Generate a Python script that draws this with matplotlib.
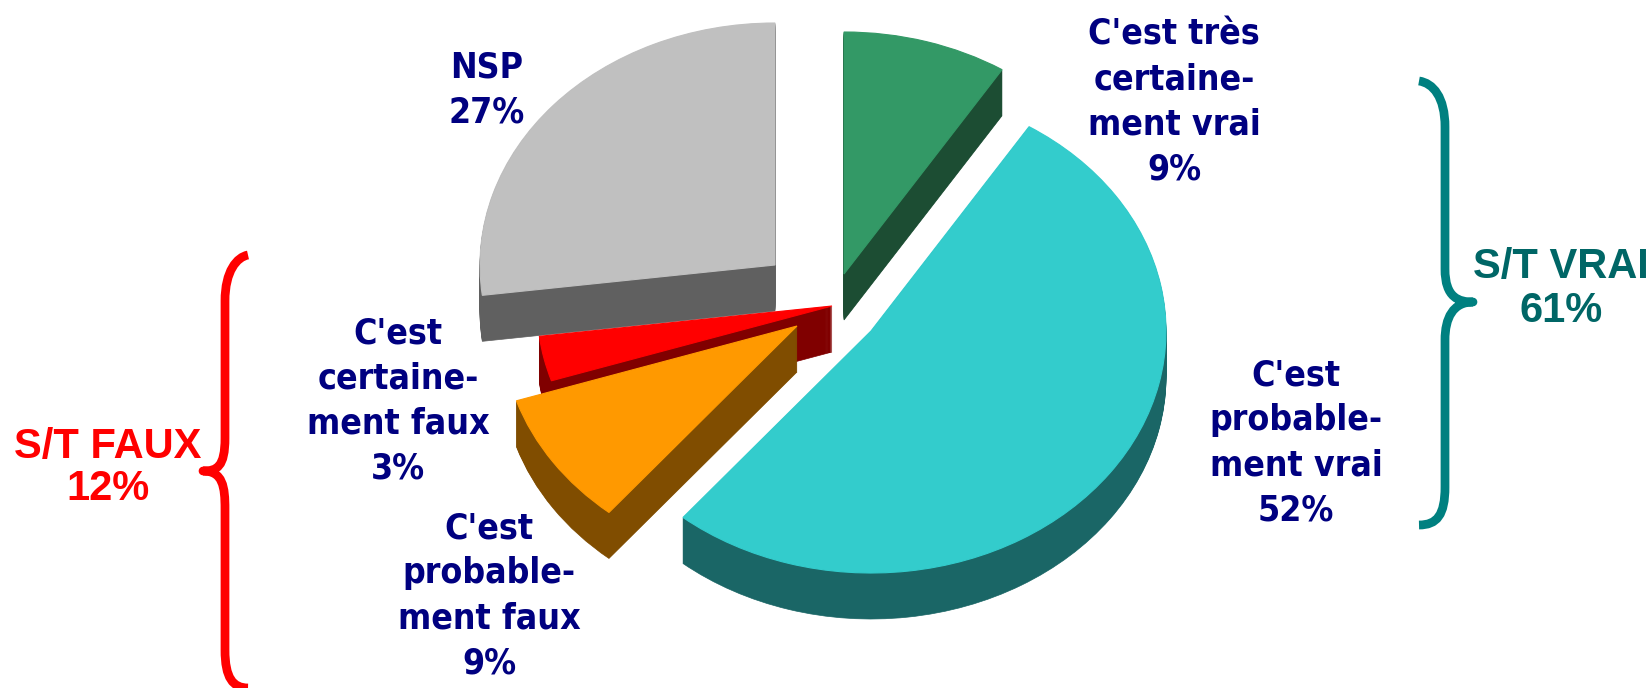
import matplotlib
matplotlib.use("Agg")
import matplotlib.pyplot as plt
from matplotlib.path import Path
from matplotlib.patches import PathPatch

# --- data ---
slice_names = ["C'est très\ncertaine-\nment vrai", "C'est\nprobable-\nment vrai",
               "C'est\nprobable-\nment faux", "C'est\ncertaine-\nment faux", "NSP"]
slice_values = [9, 52, 9, 3, 27]
group_names = ["S/T VRAI", "S/T FAUX"]
group_values = [61, 12]

# --- styles and layout (pixels of the 1650x688 picture) ---
W, H = 1650, 688
top_colors = ["#339966", "#33CCCC", "#FF9900", "#FF0000", "#C0C0C0"]
side_colors = ["#1C4D33", "#1A6666", "#804D00", "#800000", "#606060"]
apexes = [(844, 274), (871, 331), (797, 326), (832, 306), (775, 265)]
stack_rank = [3, 4, 2, 1, 0]
label_pos = [(1174, 102), (1296, 443), (489, 596), (398, 401), (487, 90)]
RX, RY, DEPTH = 295, 242, 46
SQUASH = RY / RX


def Y(py):
    return (H - py) / SQUASH


fig = plt.figure(figsize=(W / 100, H / 100), dpi=100, facecolor="white")
ax = fig.add_axes([0, 0, 1, 1])

# extruded sides, then the top faces
for d in range(DEPTH, -1, -1):
    wedges, _ = ax.pie(slice_values, startangle=90, counterclock=False, radius=RX, frame=False)
    for i, w in enumerate(wedges):
        w.set_center((apexes[i][0], Y(apexes[i][1] + d)))
        color = top_colors[i] if d == 0 else side_colors[i]
        w.set_facecolor(color)
        w.set_edgecolor(color)
        w.set_linewidth(0.8 if d == 0 else 0.5)
        w.set_zorder(stack_rank[i] * 10 + (2 if d == 0 else 1))

ax.set_aspect("auto")
ax.set_xlim(0, W)
ax.set_ylim(0, Y(0))
ax.axis("off")


def brace(x_end, x_spine, x_tip, y_top, y_tip, y_bot, color):
    s = 1 if x_tip > x_spine else -1
    verts = [(x_end, y_top),
             (x_spine - s * 12, y_top + 2), (x_spine, y_top + 16), (x_spine, y_top + 46),
             (x_spine, y_tip - 33),
             (x_spine, y_tip - 4), (x_tip - s * 14, y_tip), (x_tip, y_tip),
             (x_tip - s * 20, y_tip), (x_spine, y_tip + 16), (x_spine, y_tip + 38),
             (x_spine, y_bot - 38),
             (x_spine, y_bot - 10), (x_spine - s * 8, y_bot), (x_end, y_bot)]
    codes = [Path.MOVETO, Path.CURVE4, Path.CURVE4, Path.CURVE4, Path.LINETO,
             Path.CURVE4, Path.CURVE4, Path.CURVE4, Path.CURVE4, Path.CURVE4, Path.CURVE4,
             Path.LINETO, Path.CURVE4, Path.CURVE4, Path.CURVE4]
    verts = [(x, Y(y)) for x, y in verts]
    ax.add_patch(PathPatch(Path(verts, codes), fill=False, edgecolor=color, linewidth=6.3,
                           capstyle="butt", joinstyle="round", zorder=60, clip_on=False))


brace(1419, 1445, 1473, 81, 302, 525, "#008080")
brace(248, 225, 203, 255, 471, 688, "#FF0000")

for name, v, (x, y) in zip(slice_names, slice_values, label_pos):
    ax.text(x, Y(y), f"{name}\n{v}%", ha="center", va="center", color="#000080",
            family="DejaVu Sans", stretch="condensed", fontweight="bold", fontsize=25.6,
            linespacing=1.41, zorder=70)

ax.text(1561, Y(289), f"{group_names[0]}\n{group_values[0]}%", ha="center", va="center",
        color="#006666", family="Liberation Sans", fontweight="bold", fontsize=30,
        linespacing=1.11, zorder=70)
ax.text(108, Y(468), f"{group_names[1]}\n{group_values[1]}%", ha="center", va="center",
        color="#FF0000", family="Liberation Sans", fontweight="bold", fontsize=30,
        linespacing=1.04, zorder=70)

fig.savefig("out.png", dpi=100, facecolor="white")
